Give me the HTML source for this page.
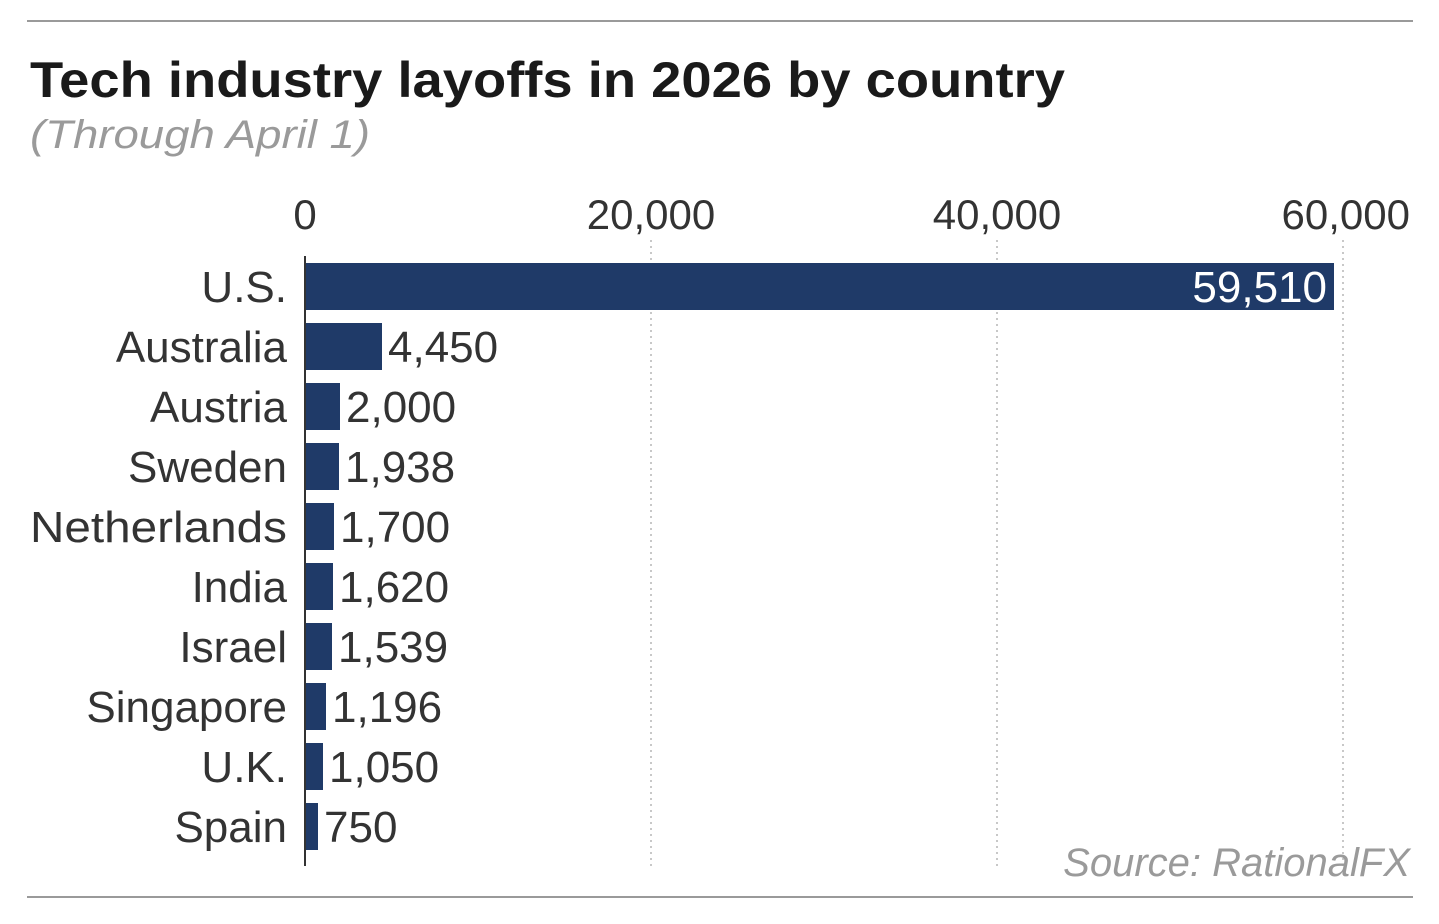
<!DOCTYPE html>
<html><head><meta charset="utf-8"><style>
html,body{margin:0;padding:0;background:#fff;}
svg{display:block;font-family:"Liberation Sans",sans-serif;}
</style></head><body>
<svg width="1439" height="924" viewBox="0 0 1439 924" xmlns="http://www.w3.org/2000/svg">
<rect width="1439" height="924" fill="#fff"/>
<line x1="27" y1="21" x2="1413" y2="21" stroke="#9a9a9a" stroke-width="2"/>
<line x1="27" y1="897" x2="1413" y2="897" stroke="#9a9a9a" stroke-width="2"/>
<text x="30" y="97" font-size="50" font-weight="bold" fill="#1a1a1a" textLength="1035" lengthAdjust="spacingAndGlyphs">Tech industry layoffs in 2026 by country</text>
<text x="30" y="148" font-size="40" font-style="italic" fill="#9a9a9a" textLength="340" lengthAdjust="spacingAndGlyphs">(Through April 1)</text>
<g font-size="42" fill="#333" text-anchor="middle">
<text x="305" y="229">0</text>
<text x="651" y="229">20,000</text>
<text x="997" y="229">40,000</text>
<text x="1410" y="229" text-anchor="end">60,000</text>
</g>
<g stroke="#c8c8c8" stroke-width="2" stroke-dasharray="2,4">
<line x1="651" y1="240" x2="651" y2="866"/>
<line x1="997" y1="240" x2="997" y2="866"/>
<line x1="1343" y1="240" x2="1343" y2="866"/>
</g>
<g fill="#1f3a68">
<rect x="305" y="263" width="1029" height="47"/>
<rect x="305" y="323" width="77" height="47"/>
<rect x="305" y="383" width="35" height="47"/>
<rect x="305" y="443" width="34" height="47"/>
<rect x="305" y="503" width="29" height="47"/>
<rect x="305" y="563" width="28" height="47"/>
<rect x="305" y="623" width="27" height="47"/>
<rect x="305" y="683" width="21" height="47"/>
<rect x="305" y="743" width="18" height="47"/>
<rect x="305" y="803" width="13" height="47"/>
</g>
<line x1="305" y1="256" x2="305" y2="866" stroke="#333" stroke-width="2"/>
<g font-size="44" fill="#333" text-anchor="end">
<text x="287" y="302">U.S.</text>
<text x="287" y="362">Australia</text>
<text x="287" y="422">Austria</text>
<text x="287" y="482">Sweden</text>
<text x="287" y="542" textLength="257" lengthAdjust="spacingAndGlyphs">Netherlands</text>
<text x="287" y="602">India</text>
<text x="287" y="662">Israel</text>
<text x="287" y="722">Singapore</text>
<text x="287" y="782">U.K.</text>
<text x="287" y="842">Spain</text>
</g>
<text x="1327" y="302" font-size="44" fill="#fff" text-anchor="end">59,510</text>
<g font-size="44" fill="#333">
<text x="388" y="362">4,450</text>
<text x="346" y="422">2,000</text>
<text x="345" y="482">1,938</text>
<text x="340" y="542">1,700</text>
<text x="339" y="602">1,620</text>
<text x="338" y="662">1,539</text>
<text x="332" y="722">1,196</text>
<text x="329" y="782">1,050</text>
<text x="324" y="842">750</text>
</g>
<text x="1410" y="876" font-size="40" font-style="italic" fill="#9a9a9a" text-anchor="end">Source: RationalFX</text>
</svg>
</body></html>
